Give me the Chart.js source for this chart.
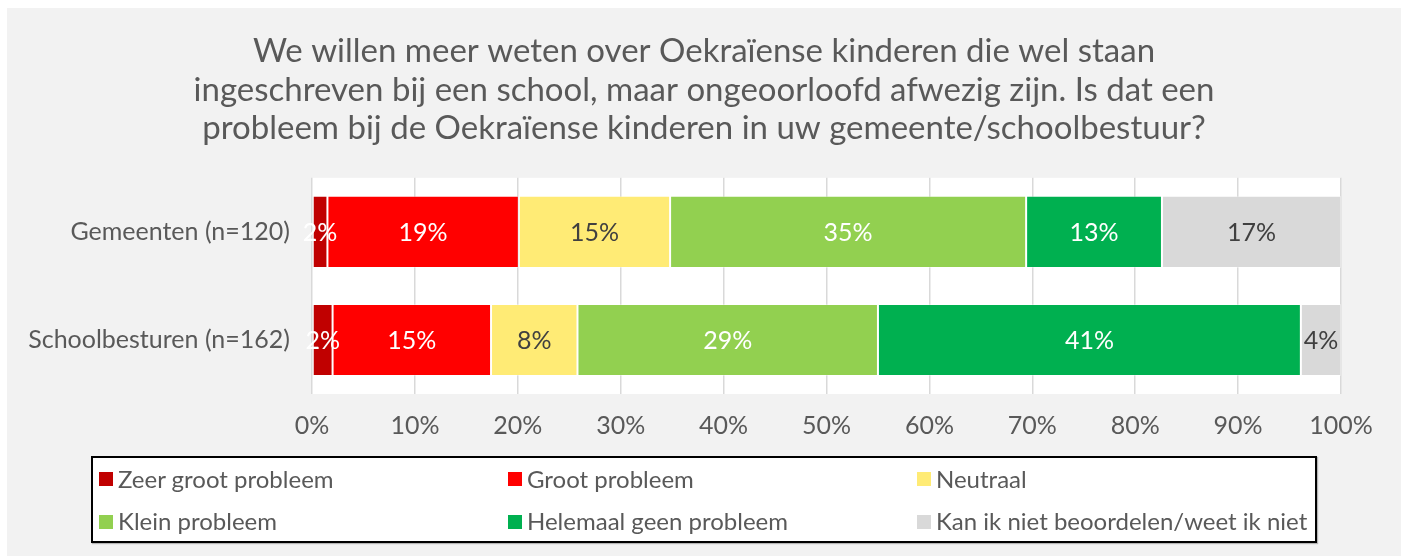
<!DOCTYPE html>
<html lang="nl">
<head>
<meta charset="utf-8">
<title>Ongeoorloofd afwezig</title>
<script src="https://cdn.jsdelivr.net/npm/chart.js@4.4.1/dist/chart.umd.min.js"></script>
<style>
  html, body { margin: 0; padding: 0; background: #fff; }
  body { width: 1405px; height: 556px; position: relative; overflow: hidden; font-family: Lato, "Noto Sans", sans-serif; }
  #panel { position: absolute; left: 7px; top: 8px; width: 1394px; height: 548px; background: #f2f2f2; }
  #wrap { position: absolute; left: 0; top: 0; width: 1394px; height: 548px; }
  #legend {
    position: absolute; left: 84px; top: 448px; width: 1222px; height: 83px;
    background: #fff; border: 2px solid #000; box-shadow: 1px 1px 1px rgba(0,0,0,0.25);
    display: grid; grid-template-columns: 409px 409px 404px; grid-template-rows: 45px 38px;
    box-sizing: content-box; overflow: hidden;
  }
  .lg-item { display: flex; align-items: center; color: #595959; font-size: 24px; white-space: nowrap; padding-left: 6px; padding-bottom: 4px; }
  .lg-item:nth-child(n+4) { align-items: flex-start; padding-top: 3px; padding-bottom: 0; }
  .lg-box { width: 14px; height: 14px; margin-right: 5px; flex: none; }
  .lg-item:nth-child(n+4) .lg-box { margin-top: 9px; }
</style>
</head>
<body>
<div id="panel">
  <div id="wrap"><canvas id="chart"></canvas></div>
  <div id="legend"></div>
</div>
<script>
  const categories = ['Gemeenten (n=120)', 'Schoolbesturen (n=162)'];
  const seriesNames = [
    'Zeer groot probleem',
    'Groot probleem',
    'Neutraal',
    'Klein probleem',
    'Helemaal geen probleem',
    'Kan ik niet beoordelen/weet ik niet'
  ];
  // percentages per answer, one entry per category
  const zeerGroot = [1.5, 2.0];
  const groot = [18.6, 15.4];
  const neutraal = [14.7, 8.4];
  const klein = [34.6, 29.2];
  const geen = [13.2, 41.1];
  const weetNiet = [17.4, 3.9];
  const xTicks = [0, 10, 20, 30, 40, 50, 60, 70, 80, 90, 100];

  const colors = ['#C00000', '#FF0000', '#FFEB75', '#92D050', '#00B050', '#D9D9D9'];
  const labelColors = ['#ffffff', '#ffffff', '#404040', '#ffffff', '#ffffff', '#404040'];
  const FONT = 'Lato, "Noto Sans", sans-serif';
  const GREY_TEXT = '#595959';

  const series = [zeerGroot, groot, neutraal, klein, geen, weetNiet];

  const plotBg = {
    id: 'plotBg',
    beforeDraw(chart) {
      const { ctx, chartArea: a } = chart;
      ctx.save();
      ctx.fillStyle = '#ffffff';
      ctx.fillRect(a.left, a.top, a.right - a.left, a.bottom - a.top);
      ctx.restore();
    }
  };

  // rounded percentage in the middle of every segment
  const segmentLabels = {
    id: 'segmentLabels',
    afterDatasetsDraw(chart) {
      const ctx = chart.ctx;
      ctx.save();
      ctx.font = '25px ' + FONT;
      ctx.textAlign = 'center';
      ctx.textBaseline = 'middle';
      chart.data.datasets.forEach((ds, i) => {
        const meta = chart.getDatasetMeta(i);
        meta.data.forEach((bar, j) => {
          const v = ds.data[j];
          if (!v) return;
          const { x, y, base } = bar.getProps(['x', 'y', 'base'], true);
          ctx.fillStyle = labelColors[i];
          ctx.fillText(Math.round(v) + '%', (x + base) / 2, y + 1);
        });
      });
      ctx.restore();
    }
  };

  const chart = new Chart(document.getElementById('chart'), {
    type: 'bar',
    data: {
      labels: categories,
      datasets: series.map((d, i) => ({
        label: seriesNames[i],
        data: d,
        backgroundColor: colors[i],
        borderColor: 'rgba(255,255,255,0.35)',
        borderWidth: 1,
        borderSkipped: false,
        barPercentage: 0.667,
        categoryPercentage: 1
      }))
    },
    options: {
      indexAxis: 'y',
      responsive: true,
      maintainAspectRatio: false,
      animation: false,
      layout: { padding: { left: 0, right: 0, top: 0, bottom: 112 } },
      plugins: {
        legend: { display: false },
        tooltip: { enabled: false },
        title: {
          display: true,
          text: [
            'We willen meer weten over Oekraïense kinderen die wel staan',
            'ingeschreven bij een school, maar ongeoorloofd afwezig zijn. Is dat een',
            'probleem bij de Oekraïense kinderen in uw gemeente/schoolbestuur?'
          ],
          color: GREY_TEXT,
          font: { family: FONT, size: 33, weight: 'normal', lineHeight: 1.17 },
          padding: { top: 24, bottom: 30 }
        }
      },
      scales: {
        x: {
          stacked: true,
          min: 0,
          max: 100,
          afterBuildTicks(scale) { scale.ticks = xTicks.map(v => ({ value: v })); },
          afterFit(scale) { scale.height = 50; },
          ticks: {
            color: GREY_TEXT,
            font: { family: FONT, size: 25 },
            padding: 17,
            callback: v => v + '%'
          },
          grid: { color: '#d9d9d9', lineWidth: 1.5, drawTicks: false },
          border: { display: false }
        },
        y: {
          stacked: true,
          afterFit(scale) { scale.width = 305; },
          ticks: {
            color: GREY_TEXT,
            font: { family: FONT, size: 25 },
            padding: 22
          },
          grid: { display: false, drawTicks: false },
          border: { display: false }
        },
        // empty axis on the right keeps the margin without shifting the title
        spacer: {
          type: 'category',
          position: 'right',
          axis: 'y',
          afterFit(scale) { scale.width = 60; },
          ticks: { display: false },
          grid: { display: false, drawTicks: false },
          border: { display: false }
        }
      }
    },
    plugins: [plotBg, segmentLabels]
  });

  // boxed legend, three columns, built from the datasets
  const legendEl = document.getElementById('legend');
  chart.data.datasets.forEach(ds => {
    const item = document.createElement('div');
    item.className = 'lg-item';
    const box = document.createElement('span');
    box.className = 'lg-box';
    box.style.background = ds.backgroundColor;
    const txt = document.createElement('span');
    txt.textContent = ds.label;
    item.appendChild(box);
    item.appendChild(txt);
    legendEl.appendChild(item);
  });
</script>
</body>
</html>
